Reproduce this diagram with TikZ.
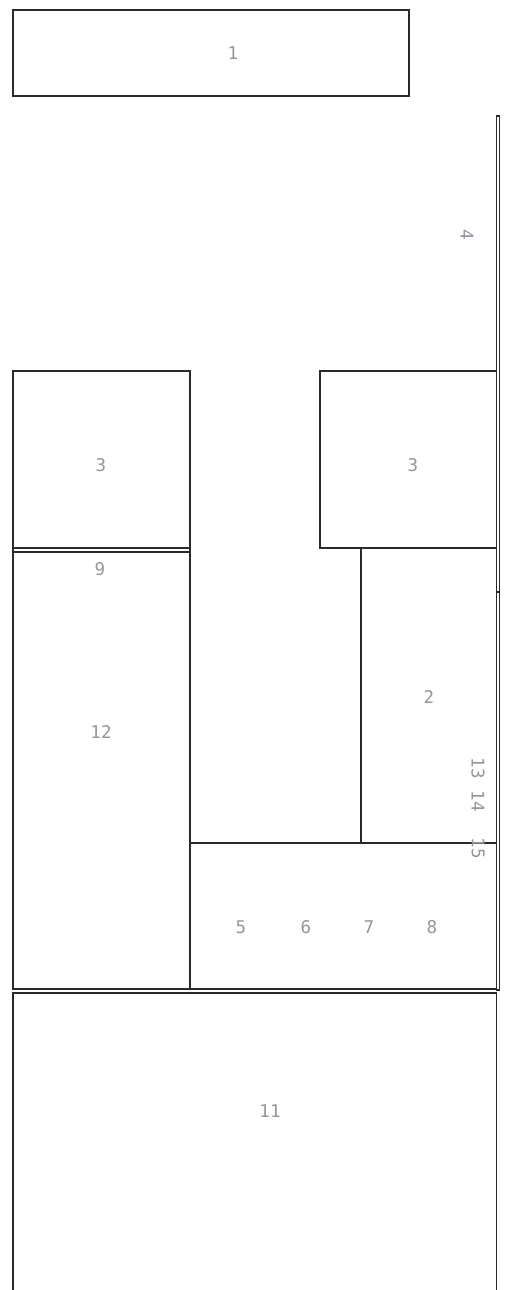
\documentclass[tikz,border=0pt]{standalone}
\usepackage{fontspec}
\setmonofont{DejaVu Sans Mono}
\definecolor{linec}{HTML}{2A2A2A}
\definecolor{labc}{HTML}{90979E}
\begin{document}
\begin{tikzpicture}[x=1pt,y=-1pt,
  box/.style={draw=linec,line width=1.1pt,inner sep=0pt,outer sep=0pt,rectangle},
  lab/.style={text=labc,font=\ttfamily\fontsize{17.5}{17.5}\selectfont,inner sep=0pt},
  rlab/.style={lab,rotate=-90}]
\useasboundingbox (0,0) rectangle (504,1290);
\node[box,minimum width=396pt,minimum height=86pt] (b1) at (211,53) {};
\node[box,minimum width=3pt,minimum height=476pt] (b4) at (498,354) {};
\node[box,minimum width=3pt,minimum height=398pt] (b4b) at (498,791) {};
\node[box,minimum width=177pt,minimum height=177pt] (b3l) at (101.5,459.5) {};
\node[box,minimum width=176.5pt,minimum height=177pt] (b3r) at (408.25,459.5) {};
\node[box,minimum width=177pt,minimum height=4pt] (b9) at (101.5,550) {};
\node[box,minimum width=177pt,minimum height=437pt] (b12) at (101.5,770.5) {};
\node[box,minimum width=135.5pt,minimum height=295pt] (b2) at (428.75,695.5) {};
\node[box,minimum width=306.5pt,minimum height=146pt] (b58) at (343.25,916) {};
\node[box,minimum width=483.5pt,minimum height=307pt] (b11) at (254.75,1146.5) {};
\node[lab] (l1) at (233,53) {1};
\node[rlab] (l4) at (467,235) {4};
\node[lab] (l3a) at (101,465) {3};
\node[lab] (l3b) at (413,465) {3};
\node[lab] (l9) at (100,569) {9};
\node[lab] (l12) at (101,732) {12};
\node[lab] (l2) at (429,697) {2};
\node[rlab] (l13) at (478,768) {13};
\node[rlab] (l14) at (478,801) {14};
\node[rlab] (l15) at (478,848) {15};
\node[lab] (l5) at (241,927) {5};
\node[lab] (l6) at (306,927) {6};
\node[lab] (l7) at (369,927) {7};
\node[lab] (l8) at (432,927) {8};
\node[lab] (l11) at (270,1111) {11};
\end{tikzpicture}
\end{document}
